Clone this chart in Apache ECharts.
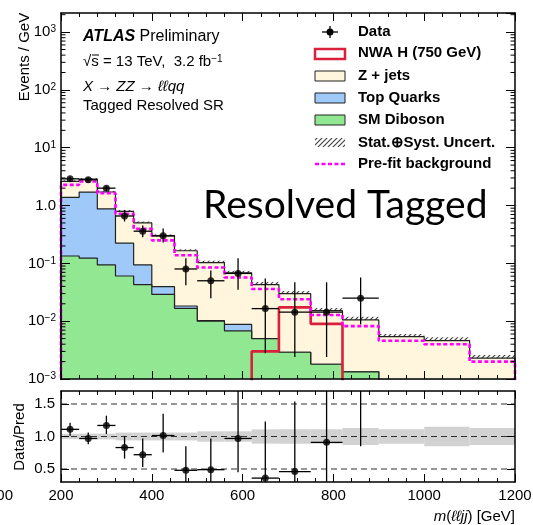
<!DOCTYPE html>
<html>
<head>
<meta charset="utf-8">
<script src="https://cdn.jsdelivr.net/npm/echarts@6/dist/echarts.min.js"></script>
<style>
html, body { margin: 0; padding: 0; background: #fff; }
#chart { width: 533px; height: 525px; }
</style>
</head>
<body>
<div id="chart"></div>
<script>
// bin edges, m(lljj) in GeV
const binEdges = [200, 240, 280, 320, 360, 400, 450, 500, 560, 620, 680, 750, 820, 900, 1000, 1100, 1200];

// Events / GeV per bin
const zJets = [1.24, 1.15, 0.84, 0.567, 0.406, 0.26, 0.147, 0.093, 0.060, 0.038, 0.027, 0.0134, 0.0092, 0.0048, 0.0042, 0.002];
const topQuarks = [1.25, 1.59, 0.78, 0.163, 0.051, 0.0105, 0.0016, 0.0002, 0.002, 0, 0, 0, 0, 0, 0, 0];
const diboson = [0.134, 0.123, 0.094, 0.0605, 0.043, 0.029, 0.0167, 0.0100, 0.0068, 0.0050, 0.0029, 0.0018, 0.00133, 0.0006, 0.0004, 0.0003];
const prefitBkg = [2.28, 2.6, 1.64, 0.72, 0.395, 0.25, 0.138, 0.085, 0.057, 0.036, 0.024, 0.0128, 0.0082, 0.0046, 0.0040, 0.0020];
const nwaSignal = [0, 0, 0, 0, 0, 0, 0, 0, 0, 0.003, 0.0173, 0.009, 0, 0, 0, 0];
const relUncert = [0.04, 0.045, 0.045, 0.06, 0.06, 0.06, 0.06, 0.08, 0.08, 0.11, 0.11, 0.11, 0.13, 0.11, 0.15, 0.13];

// data, one point per bin for the first 13 bins
const dataVals = [2.9, 2.79, 2.0, 0.66, 0.36, 0.30, 0.080, 0.050, 0.067, 0.0165, 0.0143, 0.0143, 0.025];
const dataLo = [2.65, 2.55, 1.78, 0.53, 0.283, 0.23, 0.042, 0.025, 0.035, 0.0028, 0.0024, 0.0024, 0.0088];
const dataHi = [3.15, 3.05, 2.22, 0.84, 0.45, 0.40, 0.122, 0.075, 0.122, 0.055, 0.047, 0.047, 0.057];

// Data / Pred
const ratioVals = [1.11, 0.97, 1.17, 0.83, 0.72, 1.015, 0.48, 0.49, 0.97, 0.36, 0.46, 0.91, 2.4];
const ratioLo = [1.01, 0.88, 1.04, 0.66, 0.53, 0.755, 0.2, 0.2, 0.45, 0.2, 0.2, 0.2, 0.85];
const ratioHi = [1.21, 1.06, 1.32, 1.01, 0.97, 1.35, 0.85, 0.97, 1.9, 1.23, 1.54, 1.9, 3.5];
const ratioLines = [0.5, 1.0, 1.5];

const FLOOR = 1e-5;
const nBins = binEdges.length - 1;
const topStack = diboson.map((d, i) => d + topQuarks[i]);
const totalStack = topStack.map((t, i) => t + zJets[i]);

function stepPoints(vals) {
  const last = binEdges[nBins];
  const pts = [[binEdges[0], FLOOR]];
  vals.forEach((v, i) => pts.push([binEdges[i], v > 0 ? v : FLOOR]));
  const lv = vals[nBins - 1];
  pts.push([last, lv > 0 ? lv : FLOOR]);
  pts.push([last, FLOOR]);
  return pts;
}

const binCenter = (i) => (binEdges[i] + binEdges[i + 1]) / 2;

// hatch pattern for the uncertainty band
const hatch = document.createElement('canvas');
hatch.width = 5;
hatch.height = 5;
const hctx = hatch.getContext('2d');
hctx.strokeStyle = '#444';
hctx.lineWidth = 1.2;
hctx.beginPath();
hctx.moveTo(0, 5); hctx.lineTo(5, 0);
hctx.moveTo(-1, 1); hctx.lineTo(1, -1);
hctx.moveTo(4, 6); hctx.lineTo(6, 4);
hctx.stroke();
const hatchFill = { image: hatch, repeat: 'repeat' };

const FONT = '"Liberation Sans", Arial, sans-serif';
const C_Z = '#fff6dd';
const C_TOP = '#9ec9f8';
const C_DIB = '#92e892';
const C_SIG = '#d9203c';
const C_PRE = '#ff00ff';

const minorVals = [];
for (let e = -3; e <= 3; e++) {
  for (let m = 2; m <= 9; m++) {
    const v = m * Math.pow(10, e);
    if (v < 2140) minorVals.push([v]);
  }
}

function bandItem(params, api) {
  const p1 = api.coord([api.value(0), api.value(3)]);
  const p2 = api.coord([api.value(1), api.value(2)]);
  return {
    type: 'rect',
    shape: { x: p1[0], y: p1[1], width: p2[0] - p1[0], height: p2[1] - p1[1] },
    style: { fill: params.seriesId === 'ratioBand' ? '#d2d2d2' : hatchFill }
  };
}

function errItem(params, api) {
  const c = api.coord([api.value(0), api.value(1)]);
  const lo = api.coord([api.value(0), api.value(2)]);
  const hi = api.coord([api.value(0), api.value(3)]);
  const xl = api.coord([api.value(4), api.value(1)]);
  const xr = api.coord([api.value(5), api.value(1)]);
  const st = { stroke: '#000', lineWidth: 1.3 };
  return {
    type: 'group',
    children: [
      { type: 'line', shape: { x1: c[0], y1: lo[1], x2: c[0], y2: hi[1] }, style: st },
      { type: 'line', shape: { x1: xl[0], y1: c[1], x2: xr[0], y2: c[1] }, style: st }
    ]
  };
}

const mainErr = dataVals.map((v, i) => [binCenter(i), v, dataLo[i], dataHi[i], binEdges[i], binEdges[i + 1]]);
const ratioErr = ratioVals.map((v, i) => [binCenter(i), v, ratioLo[i], ratioHi[i], binEdges[i], binEdges[i + 1]]);

function supLabel(v) {
  const e = Math.round(Math.log10(v));
  if (e === 0) return '1.0';
  return '10{sup|' + (e < 0 ? '\u2212' + (-e) : e) + '}';
}

const axisLine = { show: true, lineStyle: { color: '#000', width: 1.5 } };
function xAx(grid, pos, labels) {
  return {
    gridIndex: grid, type: 'value', position: pos, min: 200, max: 1200, interval: 200, z: 20,
    axisLine: axisLine,
    axisTick: { show: true, inside: true, length: 8, lineStyle: { color: '#000', width: 1 } },
    minorTick: { show: true, splitNumber: 5, length: 4, lineStyle: { color: '#000', width: 1 } },
    axisLabel: { show: labels, color: '#000', fontSize: 15, fontFamily: FONT, margin: 6,
      formatter: (v) => String(v) },
    splitLine: { show: false }
  };
}
function logAx(pos, labels) {
  return {
    gridIndex: 0, type: 'log', position: pos, min: 0.001, max: 2140, z: 20,
    axisLine: axisLine,
    axisTick: { show: true, inside: true, length: 9, lineStyle: { color: '#000', width: 1 } },
    axisLabel: {
      show: labels, showMaxLabel: false, color: '#000', fontSize: 15, fontFamily: FONT, margin: 5,
      formatter: supLabel,
      rich: { sup: { fontSize: 10, fontFamily: FONT, color: '#000', verticalAlign: 'top', lineHeight: 10 } }
    },
    splitLine: { show: false }
  };
}
function ratioAx(pos, labels) {
  return {
    gridIndex: 1, type: 'value', position: pos, min: 0.3, max: 1.7, z: 20,
    axisLine: axisLine,
    axisTick: { show: true, inside: true, length: 8, customValues: ratioLines, lineStyle: { color: '#000', width: 1 } },
    axisLabel: { show: labels, customValues: ratioLines, color: '#000', fontSize: 15, fontFamily: FONT, margin: 6,
      formatter: (v) => v.toFixed(1) },
    splitLine: { show: false }
  };
}

function fillSeries(name, vals, color, z) {
  return {
    name: name, type: 'line', xAxisIndex: 0, yAxisIndex: 0, step: 'end', symbol: 'none', z: z,
    data: stepPoints(vals), clip: true,
    lineStyle: { color: '#222', width: 1.2 },
    areaStyle: { color: color, opacity: 1, origin: 'start' }
  };
}

function txt(x, y, text, extra) {
  return {
    type: 'text', x: x, y: y, z: 50,
    style: Object.assign({ text: text, fill: '#000', fontSize: 15, fontFamily: FONT, verticalAlign: 'middle' }, extra || {})
  };
}
function box(y, fill, stroke, lw) {
  return { type: 'rect', z: 50, shape: { x: 315, y: y, width: 30, height: 10 },
    style: { fill: fill, stroke: stroke, lineWidth: lw } };
}
const legBold = { fontWeight: 'bold' };

const chart = echarts.init(document.getElementById('chart'));
chart.setOption({
  animation: false,
  backgroundColor: '#fff',
  grid: [
    { left: 61, top: 13, width: 454, height: 366, outerBoundsMode: 'none' },
    { left: 61, top: 391, width: 454, height: 91, outerBoundsMode: 'none' }
  ],
  xAxis: [xAx(0, 'bottom', false), xAx(0, 'top', false), xAx(1, 'bottom', true), xAx(1, 'top', false)],
  yAxis: [logAx('left', true), logAx('right', false), ratioAx('left', true), ratioAx('right', false)],
  series: [
    {
      id: 'mainBand', type: 'custom', xAxisIndex: 0, yAxisIndex: 0, z: 1, clip: true,
      data: totalStack.map((t, i) => [binEdges[i], binEdges[i + 1], t * (1 - relUncert[i]), t * (1 + relUncert[i])]),
      renderItem: bandItem
    },
    fillSeries('Z + jets', totalStack, C_Z, 2),
    fillSeries('Top Quarks', topStack, C_TOP, 3),
    fillSeries('SM Diboson', diboson, C_DIB, 4),
    {
      name: 'NWA H (750 GeV)', type: 'line', xAxisIndex: 0, yAxisIndex: 0, step: 'end', symbol: 'none', z: 5,
      data: stepPoints(nwaSignal), clip: true,
      lineStyle: { color: C_SIG, width: 2.6 }
    },
    {
      name: 'Pre-fit background', type: 'line', xAxisIndex: 0, yAxisIndex: 0, step: 'end', symbol: 'none', z: 6,
      data: stepPoints(prefitBkg), clip: true,
      lineStyle: { color: C_PRE, width: 2.6, type: [4, 2.5] }
    },
    {
      type: 'custom', xAxisIndex: 0, yAxisIndex: 0, z: 21, data: minorVals,
      renderItem: (params, api) => {
        const l = api.coord([200, api.value(0)]);
        const r = api.coord([1200, api.value(0)]);
        const st = { stroke: '#000', lineWidth: 1 };
        return { type: 'group', children: [
          { type: 'line', shape: { x1: l[0], y1: l[1], x2: l[0] + 4.5, y2: l[1] }, style: st },
          { type: 'line', shape: { x1: r[0], y1: r[1], x2: r[0] - 4.5, y2: r[1] }, style: st }
        ] };
      }
    },
    { type: 'custom', xAxisIndex: 0, yAxisIndex: 0, z: 8, clip: true, data: mainErr, renderItem: errItem },
    {
      name: 'Data', type: 'scatter', xAxisIndex: 0, yAxisIndex: 0, z: 9, symbolSize: 7,
      itemStyle: { color: '#000' },
      data: dataVals.map((v, i) => [binCenter(i), v])
    },
    {
      id: 'ratioBand', type: 'custom', xAxisIndex: 2, yAxisIndex: 2, z: 1, clip: true,
      data: relUncert.map((u, i) => [binEdges[i], binEdges[i + 1], 1 - u, 1 + u]),
      renderItem: bandItem
    },
    {
      type: 'custom', xAxisIndex: 2, yAxisIndex: 2, z: 3, data: ratioLines.map((v) => [v]),
      renderItem: (params, api) => {
        const a = api.coord([200, api.value(0)]);
        const b = api.coord([1200, api.value(0)]);
        return { type: 'line', shape: { x1: a[0], y1: a[1], x2: b[0], y2: b[1] },
          style: { stroke: '#333', lineWidth: 1.2, lineDash: [6, 4] } };
      }
    },
    { type: 'custom', xAxisIndex: 2, yAxisIndex: 2, z: 8, clip: true, data: ratioErr, renderItem: errItem },
    {
      type: 'scatter', xAxisIndex: 2, yAxisIndex: 2, z: 9, symbolSize: 7, clip: true,
      itemStyle: { color: '#000' },
      data: ratioVals.map((v, i) => [binCenter(i), v])
    }
  ],
  graphic: [
    txt(83, 37, '{b|ATLAS} Preliminary', { fontSize: 16,
      rich: { b: { fontWeight: 'bold', fontStyle: 'italic', fontSize: 16, fontFamily: FONT } } }),
    txt(83, 62, '\u221As = 13 TeV,  3.2 fb{s|\u22121}', {
      rich: { s: { fontSize: 10, fontFamily: FONT, verticalAlign: 'top', lineHeight: 10 } } }),
    { type: 'line', z: 50, shape: { x1: 92, y1: 55, x2: 99, y2: 55 }, style: { stroke: '#000', lineWidth: 1 } },
    txt(83, 87, '{i|X} \u2192 {i|ZZ} \u2192 {i|\u2113\u2113qq}', {
      rich: { i: { fontStyle: 'italic', fontSize: 15, fontFamily: FONT } } }),
    txt(83, 106, 'Tagged Resolved SR'),
    {
      type: 'text', x: 25, y: 57, rotation: Math.PI / 2, z: 50,
      style: { text: 'Events / GeV', fill: '#000', fontSize: 15, fontFamily: FONT, align: 'center', verticalAlign: 'middle' }
    },
    {
      type: 'text', x: 20, y: 437, rotation: Math.PI / 2, z: 50,
      style: { text: 'Data/Pred', fill: '#000', fontSize: 15, fontFamily: FONT, align: 'center', verticalAlign: 'middle' }
    },
    txt(515, 517, '{i|m}({i|\u2113\u2113jj}) [GeV]', { align: 'right',
      rich: { i: { fontStyle: 'italic', fontSize: 15, fontFamily: FONT } } }),
    txt(13, 496, '00', { align: 'right' }),
    txt(203, 205, 'Resolved Tagged', { fontSize: 39, fontFamily: 'Lato, "Open Sans", sans-serif' }),

    // legend
    { type: 'line', z: 50, shape: { x1: 322, y1: 32, x2: 338, y2: 32 }, style: { stroke: '#000', lineWidth: 1.3 } },
    { type: 'line', z: 50, shape: { x1: 330, y1: 26, x2: 330, y2: 38 }, style: { stroke: '#000', lineWidth: 1.3 } },
    { type: 'circle', z: 50, shape: { cx: 330, cy: 32, r: 3.5 }, style: { fill: '#000' } },
    txt(358, 32, 'Data', legBold),
    { type: 'rect', z: 50, shape: { x: 315, y: 49, width: 30, height: 10 }, style: { fill: '#fff', stroke: C_SIG, lineWidth: 2.5 } },
    txt(358, 53, 'NWA H (750 GeV)', legBold),
    box(71, C_Z, '#222', 1),
    txt(358, 76, 'Z + jets', legBold),
    box(93, C_TOP, '#222', 1),
    txt(358, 98, 'Top Quarks', legBold),
    box(115, C_DIB, '#222', 1),
    txt(358, 120, 'SM Diboson', legBold),
    { type: 'rect', z: 50, shape: { x: 315, y: 138, width: 30, height: 9 }, style: { fill: hatchFill } },
    txt(358, 143, 'Stat.\u2295Syst. Uncert.', legBold),
    { type: 'line', z: 50, shape: { x1: 315, y1: 164, x2: 345, y2: 164 }, style: { stroke: C_PRE, lineWidth: 2.6, lineDash: [4, 2.5] } },
    txt(358, 164, 'Pre-fit background', legBold)
  ]
});
</script>
</body>
</html>
